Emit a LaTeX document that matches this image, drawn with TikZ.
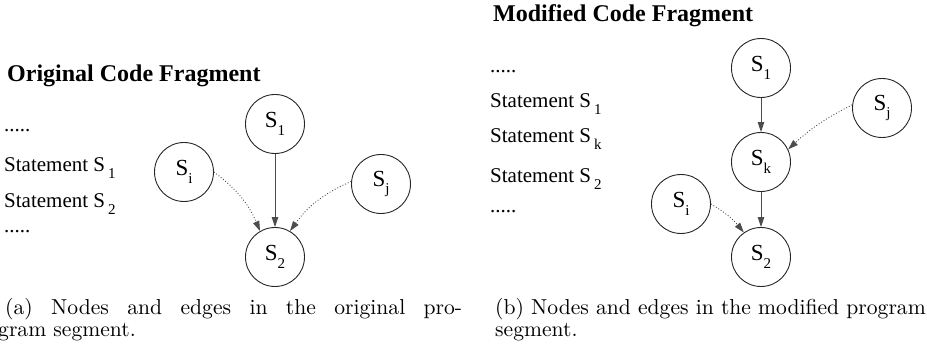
\documentclass[tikz,border=0pt]{standalone}
\usepackage{fontspec}
\newfontfamily\tms{Liberation Serif}
\newfontfamily\capfont{lmroman10-regular.otf}
\usetikzlibrary{arrows.meta}
% lowered, smaller index placed after a statement symbol
\newcommand\lowsub[1]{\raisebox{-0.32em}{\fontsize{15}{15}\selectfont #1}}

\begin{document}
\begin{tikzpicture}[x=1pt,y=-1pt,
  stmt/.style={anchor=base west, inner sep=0pt, font=\tms\fontsize{21}{21}\selectfont},
  heading/.style={anchor=base west, inner sep=0pt, font=\tms\bfseries\fontsize{24}{24}\selectfont},
  vert/.style={circle, draw=black!85, line width=0.9pt, minimum size=59pt, inner sep=0pt,
    font=\tms\fontsize{23}{23}\selectfont},
  flow/.style={draw=black!70, line width=0.9pt, -{Triangle[length=10pt,width=6.5pt]}},
  dep/.style={draw=black!70, line width=0.9pt, dotted, -{Triangle[length=10pt,width=6.5pt]}},
  capline/.style={anchor=base west, inner sep=0pt, font=\capfont\fontsize{21.6}{22}\selectfont},
]
\useasboundingbox (0,0) rectangle (927,347);

% ---------- original fragment ----------
\node[heading] (t1) at (7,82) {Original Code Fragment};
\node[stmt] (a0) at (4,132) {.....};
\node[stmt] (a1) at (4,172) {Statement S\hspace{3pt}\lowsub{1}};
\node[stmt] (a2) at (4,208) {Statement S\hspace{3pt}\lowsub{2}};
\node[stmt] (a3) at (4,233) {.....};

\node[vert] (L1) at (275,124) {S\lowsub{1}};
\node[vert] (Li) at (184,172) {S\lowsub{i}};
\node[vert] (Lj) at (381,184) {S\lowsub{j}};
\node[vert] (L2) at (275,257) {S\lowsub{2}};

\draw[flow] (L1) -- (L2);
\draw[dep] (Li.east) to[bend left=15] (L2.120);
\draw[dep] (Lj.175) to[bend right=15] (L2.60);

% ---------- modified fragment ----------
\node[heading] (t2) at (493,22) {Modified Code Fragment};
\node[stmt] (b0) at (490,73) {.....};
\node[stmt] (b1) at (490,108) {Statement S\hspace{3pt}\lowsub{1}};
\node[stmt] (b2) at (490,143) {Statement S\hspace{3pt}\lowsub{k}};
\node[stmt] (b3) at (490,183) {Statement S\hspace{3pt}\lowsub{2}};
\node[stmt] (b4) at (490,213) {.....};

\node[vert] (R1) at (761,68) {S\lowsub{1}};
\node[vert] (Rk) at (761,162) {S\lowsub{k}};
\node[vert] (R2) at (761,257) {S\lowsub{2}};
\node[vert] (Ri) at (681,204) {S\lowsub{i}};
\node[vert] (Rj) at (882,108) {S\lowsub{j}};

\draw[flow] (R1) -- (Rk);
\draw[flow] (Rk) -- (R2);
\draw[dep] (Rj.174) to[bend right=8] (Rk.25);
\draw[dep] (Ri.east) to[bend left=10] (R2.125);

% ---------- captions ----------
\node[capline] (ca1) at (5,315) {\makebox[457pt][s]{(a) Nodes and edges in the original pro-}};
\node[capline] (ca2) at (-2,337) {gram segment.};
\node[capline] (cb1) at (495,315) {(b) Nodes and edges in the modified program};
\node[capline] (cb2) at (495,337) {segment.};
\end{tikzpicture}
\end{document}
